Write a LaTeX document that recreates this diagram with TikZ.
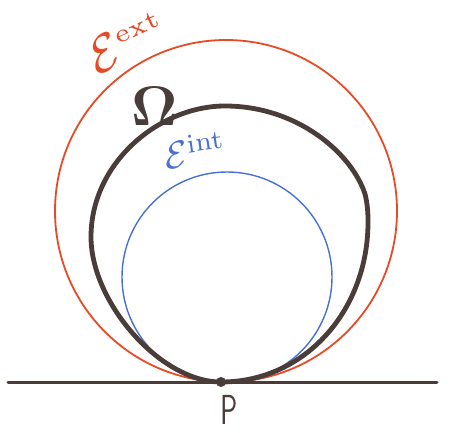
\documentclass[tikz,border=0pt]{standalone}
\usepackage{amsmath,amssymb}
\usepackage{bm}
\usetikzlibrary{positioning,calc}

\definecolor{extred}{RGB}{232,74,38}
\definecolor{intblue}{RGB}{72,112,212}
\definecolor{omegabrown}{RGB}{74,60,56}

\begin{document}
\begin{tikzpicture}[x=1pt,y=1pt,
    pen/.style={line cap=round,line join=round},
    handlabel/.style={inner sep=0pt}]
    \useasboundingbox (0,0) rectangle (450,432);

    % Exterior and interior circles
    \draw[pen, extred, line width=1.8pt] (226,221) circle[radius=171];
    \draw[pen, intblue, line width=1.4pt] (227,155) circle[radius=105];

    % Domain Omega
    \draw[pen, omegabrown, line width=4.8pt] (221,50)
        .. controls (305,50) and (369,122) .. (368,212)
        .. controls (368,222) and (367,230) .. (365,238)
        .. controls (352,278) and (298,326) .. (225,326)
        .. controls (160,326) and (91,270) .. (91,195)
        .. controls (91,130) and (160,50) .. cycle;

    % Tangent line and contact point
    \coordinate (lineL) at (8,50);
    \coordinate (lineR) at (437,50);
    \draw[pen, omegabrown, line width=3pt] (lineL) -- (lineR);
    \node[circle, fill=omegabrown, minimum size=10pt, inner sep=0pt] (P) at (221,50) {};
    \node[handlabel, omegabrown, xscale=2.7, yscale=4.2] (Plabel) at (229,22) {\sffamily P};

    % Labels
    \node[handlabel, extred, scale=5.1, rotate=25] (Eext) at (127,390) {$\mathcal{E}^{\scriptscriptstyle\mathrm{ext}}$};
    \node[handlabel, omegabrown, scale=5.6] (Om) at (155,326) {$\bm{\Omega}$};
    \node[handlabel, intblue, scale=3.8, rotate=8] (Eint) at (195,282) {$\mathcal{E}^{\mathrm{int}}$};
\end{tikzpicture}
\end{document}
